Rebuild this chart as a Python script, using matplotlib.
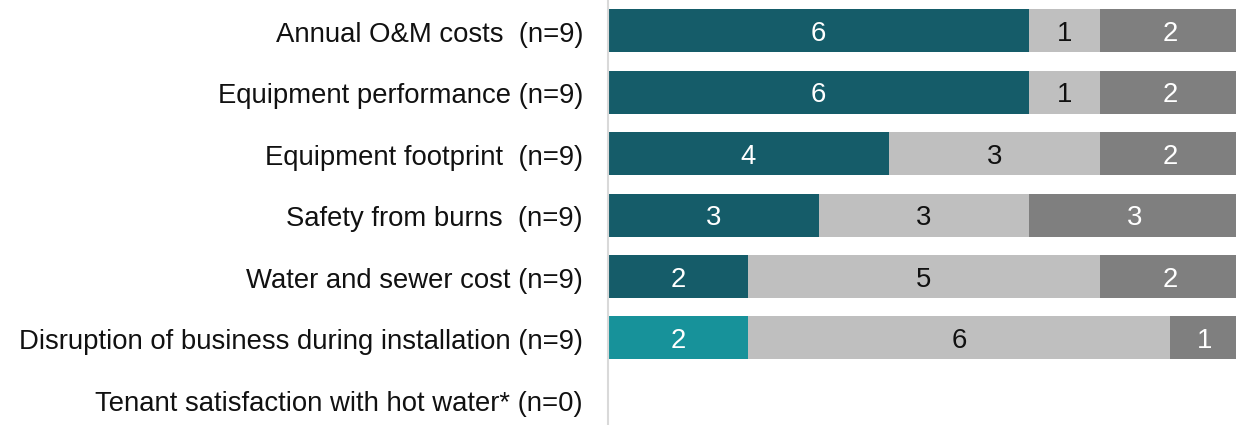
import numpy as np
import matplotlib
matplotlib.use('Agg')
import matplotlib.pyplot as plt

plt.rcParams['font.family'] = ['Liberation Sans', 'DejaVu Sans']

# categories, top to bottom
categories = ['Annual O&M costs  (n=9)',
              'Equipment performance (n=9)',
              'Equipment footprint  (n=9)',
              'Safety from burns  (n=9)',
              'Water and sewer cost (n=9)',
              'Disruption of business during installation (n=9)',
              'Tenant satisfaction with hot water* (n=0)']
seg1 = [6, 6, 4, 3, 2, 2, 0]
seg2 = [1, 1, 3, 3, 5, 6, 0]
seg3 = [2, 2, 2, 3, 2, 1, 0]

dark_teal = '#155C69'
light_teal = '#17929A'
c_seg1 = [dark_teal] * 5 + [light_teal, dark_teal]
c_seg2 = '#BFBFBF'
c_seg3 = '#7F7F7F'

fig = plt.figure(figsize=(12.36, 4.25), dpi=100)
ax = fig.add_axes([608 / 1236, -0.012, (1240 - 608) / 1236, 1.012])

y = np.arange(len(categories))
h = 0.70
left1 = np.zeros(len(categories))
left2 = left1 + np.array(seg1)
left3 = left2 + np.array(seg2)
ax.barh(y, seg1, left=left1, height=h, color=c_seg1)
ax.barh(y, seg2, left=left2, height=h, color=c_seg2)
ax.barh(y, seg3, left=left3, height=h, color=c_seg3)

fs = 19.8
off = 0.165  # baseline shift so digits sit centred in the bar
for i in range(len(categories)):
    if seg1[i] > 0:
        ax.text(left1[i] + seg1[i] / 2, y[i] + off, str(seg1[i]), ha='center', va='baseline',
                color='white', fontsize=fs)
    if seg2[i] > 0:
        ax.text(left2[i] + seg2[i] / 2, y[i] + off, str(seg2[i]), ha='center', va='baseline',
                color='#111111', fontsize=fs)
    if seg3[i] > 0:
        ax.text(left3[i] + seg3[i] / 2, y[i] + off, str(seg3[i]), ha='center', va='baseline',
                color='white', fontsize=fs)

ax.set_xlim(0, 9)
ax.set_ylim(len(categories) - 0.5, -0.5)
ax.set_yticks(y + 0.02)
ax.set_yticklabels(categories, fontsize=fs, color='#111111')
ax.tick_params(axis='y', length=0, pad=18)
ax.set_xticks([])
for s in ['top', 'right', 'bottom']:
    ax.spines[s].set_visible(False)
ax.spines['left'].set_color('#D9D9D9')
ax.spines['left'].set_linewidth(1.5)

plt.savefig('out.png', dpi=100)
